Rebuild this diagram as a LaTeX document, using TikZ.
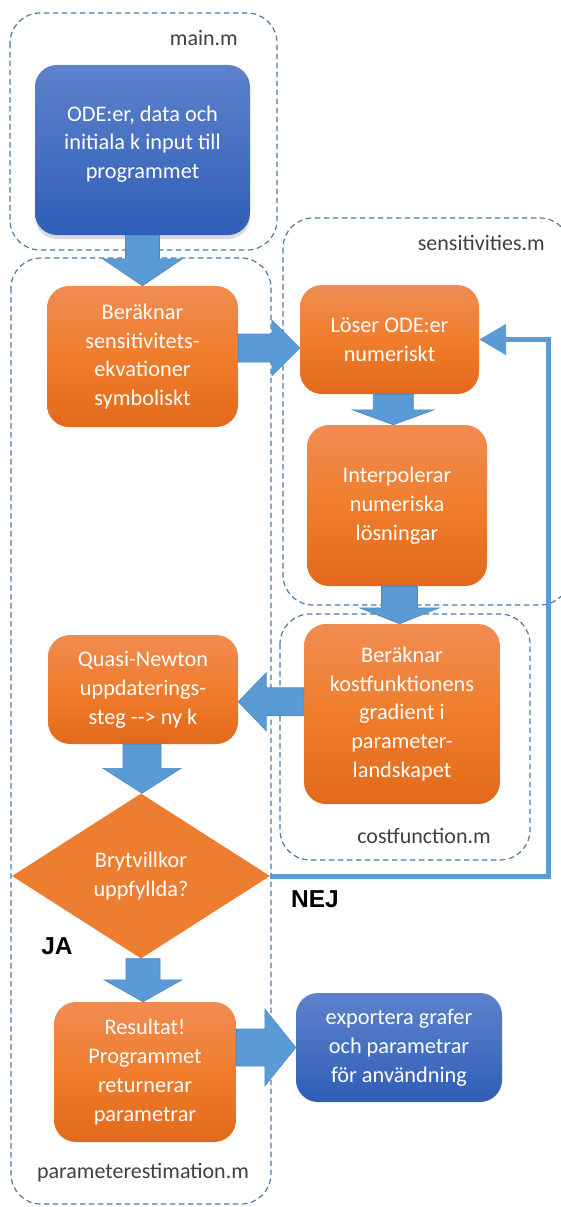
\documentclass[tikz,border=0pt]{standalone}
\usepackage{fontspec}
\setmainfont{Carlito}
\newfontfamily\answerfont{Liberation Sans}
\usetikzlibrary{shapes.geometric,arrows.meta,calc,shadows,positioning}

\definecolor{orangetop}{HTML}{F08C52}
\definecolor{orangemid}{HTML}{F07D2C}
\definecolor{orangebot}{HTML}{E2691B}
\definecolor{bluetop}{HTML}{5E82CB}
\definecolor{bluebot}{HTML}{2F5EB8}
\definecolor{arrowblue}{HTML}{5B9BD5}
\definecolor{arrowedge}{HTML}{4A88C4}
\definecolor{diamondorange}{HTML}{ED7D31}
\definecolor{framegray}{HTML}{4E79A7}
\definecolor{labelgray}{HTML}{404040}

\tikzset{
  boxtext/.style={text=white, align=center, inner sep=0pt, font=\fontsize{22.3}{28.8}\selectfont},
  procbox/.style={boxtext, rounded corners=22pt, top color=orangetop, bottom color=orangebot, middle color=orangemid},
  iobox/.style={boxtext, rounded corners=22pt, top color=bluetop, bottom color=bluebot},
  decision/.style={boxtext, diamond, fill=diamondorange, aspect=1.56},
  filebox/.style={draw=framegray, line width=1.2pt, dash pattern=on 5.5pt off 3.5pt, rounded corners=30pt},
  filelabel/.style={text=labelgray, inner sep=0pt, font=\fontsize{22}{26}\selectfont},
  answer/.style={inner sep=0pt, font=\answerfont\bfseries\fontsize{24.5}{28}\selectfont},
  blockfill/.style={fill=arrowblue, draw=arrowedge, line width=0.6pt, line join=miter},
  feedback/.style={draw=arrowblue, line width=5pt, line join=miter, -{Triangle[length=27pt,width=30pt]}}
}

% block arrows: from, to, shaft half width, head half width, head length
\newcommand{\blockdown}[5]{%
  \path[blockfill] let \p1=#1, \p2=#2, \n1={(\x1+\x2)/2} in
    ({(\n1-#3)*1pt},\y1) -- ({(\n1-#3)*1pt},{\y2+#5}) -- ({(\n1-#4)*1pt},{\y2+#5})
    -- ({\n1*1pt},\y2) -- ({(\n1+#4)*1pt},{\y2+#5}) -- ({(\n1+#3)*1pt},{\y2+#5})
    -- ({(\n1+#3)*1pt},\y1) -- cycle;}
\newcommand{\blockright}[5]{%
  \path[blockfill] let \p1=#1, \p2=#2, \n1={(\y1+\y2)/2} in
    (\x1,{(\n1+#3)*1pt}) -- ({\x2-#5},{(\n1+#3)*1pt}) -- ({\x2-#5},{(\n1+#4)*1pt})
    -- (\x2,{\n1*1pt}) -- ({\x2-#5},{(\n1-#4)*1pt}) -- ({\x2-#5},{(\n1-#3)*1pt})
    -- (\x1,{(\n1-#3)*1pt}) -- cycle;}
\newcommand{\blockleft}[5]{%
  \path[blockfill] let \p1=#1, \p2=#2, \n1={(\y1+\y2)/2} in
    (\x1,{(\n1+#3)*1pt}) -- ({\x2+#5},{(\n1+#3)*1pt}) -- ({\x2+#5},{(\n1+#4)*1pt})
    -- (\x2,{\n1*1pt}) -- ({\x2+#5},{(\n1-#4)*1pt}) -- ({\x2+#5},{(\n1-#3)*1pt})
    -- (\x1,{(\n1-#3)*1pt}) -- cycle;}

\begin{document}
\begin{tikzpicture}[x=1pt, y=-1pt]
  \useasboundingbox (0,0) rectangle (561,1207);

  % the m-files
  \draw[filebox] (10,13) rectangle (277,250);
  \draw[filebox] (283,218) rectangle (570,605);
  \draw[filebox] (280,614) rectangle (530,860);
  \draw[filebox] (11,258) rectangle (271,1204);
  \node[filelabel, anchor=east] (mainlbl) at (238,38) {main.m};
  \node[filelabel, anchor=east] (senslbl) at (545,243) {sensitivities.m};
  \node[filelabel, anchor=east] (costlbl) at (491,836) {costfunction.m};
  \node[filelabel] (estlbl) at (143,1173) {parameterestimation.m};

  % steps
  \node[iobox, drop shadow={opacity=0.3, shadow xshift=0pt, shadow yshift=-4pt},
        minimum width=215pt, minimum height=170pt] (input) at (142.5,150)
        {ODE:er, data och\\initiala k input till\\programmet\\[-13pt]\mbox{}};
  \node[procbox, minimum width=191pt, minimum height=141pt] (sens) at (142.5,356.5)
        {Beräknar\\sensitivitets-\\ekvationer\\symboliskt};
  \node[procbox, minimum width=179pt, minimum height=109pt] (solve) at (389.5,339.5)
        {Löser ODE:er\\numeriskt};
  \node[procbox, minimum width=180pt, minimum height=161pt] (interp) at (397,505.5)
        {Interpolerar\\numeriska\\lösningar};
  \node[procbox, minimum width=196pt, minimum height=180pt] (grad) at (402,714)
        {Beräknar\\kostfunktionens\\gradient i\\parameter-\\landskapet};
  \node[procbox, minimum width=190pt, minimum height=109pt] (quasi) at (143,689.5)
        {Quasi-Newton\\uppdaterings-\\steg -{}-{}> ny k};
  \node[decision, minimum width=258pt, minimum height=165pt] (check) at (141,876)
        {Brytvillkor\\uppfyllda?};
  \node[procbox, minimum width=182pt, minimum height=140pt] (result) at (145,1072)
        {Resultat!\\Programmet\\returnerar\\parametrar};
  \node[iobox, minimum width=206pt, minimum height=109pt] (export) at (399,1047.5)
        {exportera grafer\\och parametrar\\för användning};

  \node[answer] (nej) at (315,899) {NEJ};
  \node[answer] (ja) at (57,946) {JA};

  % flow
  \blockdown{(input.south)}{(sens.north)}{17}{40}{27}
  \blockright{(sens.east)}{(solve.west)}{14}{28}{28}
  \blockdown{(solve.south)}{(interp.north)}{20}{41}{15}
  \blockdown{(interp.south)}{(grad.north)}{18}{40}{16}
  \blockleft{(grad.west)}{(quasi.east)}{14}{29}{28}
  \blockdown{(quasi.south)}{(check.north)}{19}{39}{25}
  \blockdown{(check.south)}{(result.north)}{17}{39}{22}
  \blockright{(result.east |- export.west)}{(export.west)}{18.5}{38.5}{31}

  \coordinate (loopturn) at (548,340);
  \draw[feedback] (check.east) -| (loopturn) |- (solve.east);
\end{tikzpicture}
\end{document}
